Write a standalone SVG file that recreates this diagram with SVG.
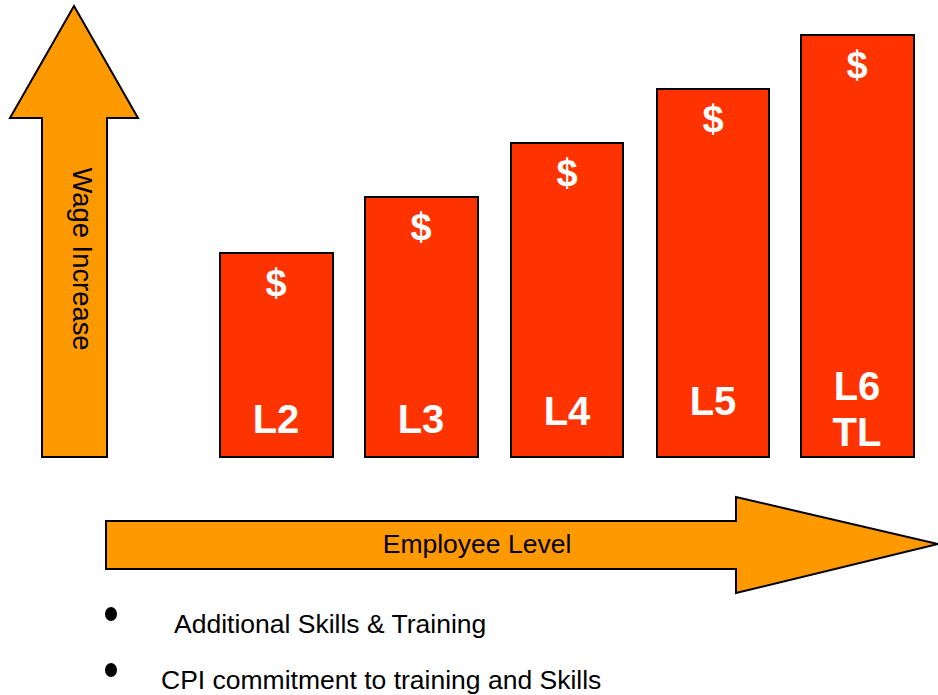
<svg xmlns="http://www.w3.org/2000/svg" width="938" height="695" viewBox="0 0 938 695">
  <style>
    .arrow { fill: #FF9900; stroke: #000; stroke-width: 2; stroke-linejoin: miter; }
    .bar { fill: #FF3300; stroke: #000; stroke-width: 2; }
    .dollar { font-family: "Liberation Sans", Arial, sans-serif; font-weight: bold; font-size: 38px; fill: #fff; text-anchor: middle; }
    .lvl { font-family: "Liberation Sans", Arial, sans-serif; font-weight: bold; font-size: 40px; fill: #fff; text-anchor: middle; }
    .axis { font-family: "Liberation Sans", Arial, sans-serif; font-size: 26.5px; fill: #000; text-anchor: middle; }
    .note { font-family: "Liberation Sans", Arial, sans-serif; font-size: 26.5px; fill: #000; }
  </style>
  <rect width="938" height="695" fill="#fff"/>

  <!-- vertical axis arrow -->
  <g id="wage-arrow">
    <polygon class="arrow" points="74,6 138,118 107,118 107,457 42,457 42,118 10,118"/>
    <text class="axis" transform="translate(73,259) rotate(90)" style="font-size:27.4px">Wage Increase</text>
  </g>

  <!-- horizontal axis arrow -->
  <g id="level-arrow">
    <polygon class="arrow" points="106,521 736,521 736,497 938,544 736,593 736,569 106,569"/>
    <text class="axis" x="477" y="553">Employee Level</text>
  </g>

  <g id="bar-l2">
    <rect class="bar" x="220" y="253" width="113" height="204"/>
    <text class="dollar" x="276" y="296">$</text>
    <text class="lvl" x="276" y="433">L2</text>
  </g>
  <g id="bar-l3">
    <rect class="bar" x="365" y="197" width="113" height="260"/>
    <text class="dollar" x="421" y="240">$</text>
    <text class="lvl" x="421" y="433">L3</text>
  </g>
  <g id="bar-l4">
    <rect class="bar" x="511" y="143" width="112" height="314"/>
    <text class="dollar" x="567" y="186">$</text>
    <text class="lvl" x="567" y="425">L4</text>
  </g>
  <g id="bar-l5">
    <rect class="bar" x="657" y="89" width="112" height="368"/>
    <text class="dollar" x="713" y="132">$</text>
    <text class="lvl" x="713" y="415">L5</text>
  </g>
  <g id="bar-l6">
    <rect class="bar" x="801" y="35" width="113" height="422"/>
    <text class="dollar" x="857" y="78">$</text>
    <text class="lvl" x="857" y="400">L6</text>
    <text class="lvl" x="857" y="446">TL</text>
  </g>

  <g id="notes">
    <ellipse cx="111" cy="614" rx="6" ry="7" fill="#000"/>
    <text class="note" x="174" y="633">Additional Skills &amp; Training</text>
    <ellipse cx="111" cy="670" rx="6" ry="7" fill="#000"/>
    <text class="note" x="161" y="689">CPI commitment to training and Skills</text>
  </g>
</svg>
